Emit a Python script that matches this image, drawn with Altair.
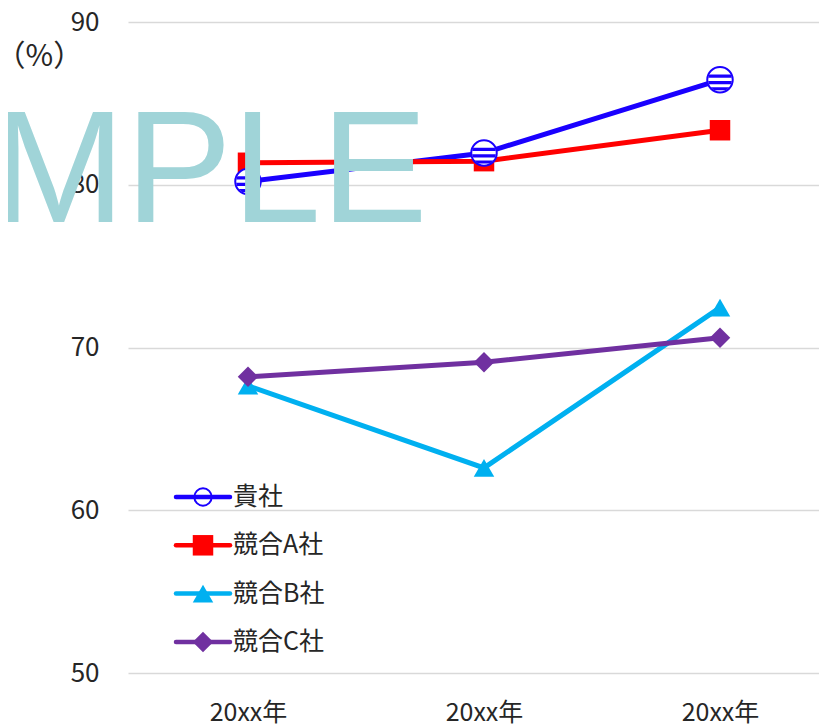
import json
import numpy as np
import pandas as pd
import altair as alt

# ---------------- data ----------------
categories = ["20xx年", "20xx年", "20xx年"]
series_names = ["貴社", "競合A社", "競合B社", "競合C社"]
kisha = [80.2, 81.95, 86.45]
comp_a = [81.35, 81.45, 83.35]
comp_b = [67.65, 62.6, 72.45]
comp_c = [68.2, 69.1, 70.6]
y_ticks = [50, 60, 70, 80, 90]

colors = ["#1A00FF", "#FF0000", "#00B0F0", "#7030A0"]
FONT = "Noto Sans CJK JP"
TXT = "#262626"

rows = []
for name, vals in zip(series_names, [kisha, comp_a, comp_b, comp_c]):
    for i, v in enumerate(vals):
        rows.append({"series": name, "idx": i, "value": v})
df = pd.DataFrame(rows)

legend_df = pd.DataFrame({"series": series_names, "row": list(range(len(series_names)))})

# ---------------- marker shapes ----------------
CIRCLE = "M-1,0A1,1 0 1,1 1,0A1,1 0 1,1 -1,0Z"


def stripes_path(bands, r=0.93, n=12):
    parts = []
    for a, b in bands:
        ys = np.linspace(a, b, n)
        left = [(-np.sqrt(max(r * r - y * y, 0)), y) for y in ys]
        right = [(np.sqrt(max(r * r - y * y, 0)), y) for y in ys[::-1]]
        pts = left + right
        s = "M" + " L".join(f"{x:.3f},{y:.3f}" for x, y in pts) + " Z"
        parts.append(s)
    return " ".join(parts)


STRIPES = stripes_path([(-0.42, -0.16), (0.10, 0.36), (0.58, 0.82)])

color = alt.Color("series:N", scale=alt.Scale(domain=series_names, range=colors), legend=None)

x_enc = alt.X(
    "idx:Q",
    scale=alt.Scale(domain=[-120 / 236, 571 / 236], nice=False, zero=False),
    axis=alt.Axis(
        values=[0, 1, 2],
        labelExpr=json.dumps(categories, ensure_ascii=False) + "[datum.value]",
        title=None, domain=False, ticks=False, grid=False,
        labelPadding=27, labelFontSize=25, labelColor=TXT, labelFont=FONT,
    ),
)
y_enc = alt.Y(
    "value:Q",
    scale=alt.Scale(domain=[50, 90], nice=False, zero=False),
    axis=alt.Axis(
        values=y_ticks, title="（%）", titleAngle=0, titleX=-133, titleY=34,
        titleAlign="left", titleBaseline="middle", titleFontSize=30,
        titleFontWeight="normal", titleColor=TXT, titleFont=FONT,
        domain=False, ticks=False, labelPadding=29, labelFontSize=26,
        labelColor=TXT, labelFont=FONT, gridColor="#D9D9D9", gridWidth=1.5,
    ),
)

base = alt.Chart(df).encode(x=x_enc, y=y_enc)

lines = base.mark_line(strokeWidth=5).encode(color=color)

others = base.transform_filter(alt.datum.series != "貴社").mark_point(filled=True, opacity=1).encode(
    color=color,
    shape=alt.Shape("series:N", scale=alt.Scale(domain=series_names[1:], range=["square", "triangle-up", "diamond"]), legend=None),
    size=alt.Size("series:N", scale=alt.Scale(domain=series_names[1:], range=[420, 420, 360]), legend=None),
)

k_circle = base.transform_filter(alt.datum.series == "貴社").mark_point(
    shape=CIRCLE, filled=True, fill="white", stroke=colors[0], strokeWidth=2, size=650, opacity=1
)
k_stripes = base.transform_filter(alt.datum.series == "貴社").mark_point(
    shape=STRIPES, filled=True, color=colors[0], size=650, opacity=1
)

main = alt.layer(lines, others, k_circle, k_stripes)

# ---------------- legend (drawn inside plot) ----------------
lbase = alt.Chart(legend_df).transform_calculate(ly="475 + datum.row * 48.3").encode(
    y=alt.Y("ly:Q", scale=None, axis=None)
)
l_circle = lbase.transform_filter(alt.datum.series == "貴社").mark_point(
    shape=CIRCLE, filled=True, fill="white", stroke=colors[0], strokeWidth=2, size=300, opacity=1
).encode(x=alt.value(75))
l_rules = lbase.mark_rule(strokeWidth=4.5, strokeCap="round").encode(
    x=alt.value(48), x2=alt.value(102), color=color
)
l_marks = lbase.transform_filter(alt.datum.series != "貴社").mark_point(filled=True, opacity=1).encode(
    x=alt.value(75),
    color=color,
    shape=alt.Shape("series:N", scale=alt.Scale(domain=series_names[1:], range=["square", "triangle-up", "diamond"]), legend=None),
    size=alt.Size("series:N", scale=alt.Scale(domain=series_names[1:], range=[200, 200, 190]), legend=None),
)
l_text = lbase.mark_text(align="left", baseline="middle", fontSize=25, font=FONT, color=TXT).encode(
    x=alt.value(105), text="series:N"
)
legend_layer = alt.layer(l_circle, l_rules, l_marks, l_text)

# ---------------- watermark ----------------
wm = alt.Chart(pd.DataFrame({"t": ["MPLE"]})).mark_text(
    align="left", baseline="alphabetic", fontSize=160, font="Liberation Sans", color="#A0D4D8"
).encode(x=alt.value(-136), y=alt.value(200), text="t:N")

chart = alt.layer(main, legend_layer, wm).resolve_scale(y="independent", x="independent").properties(
    width=691, height=651,
    autosize=alt.AutoSizeParams(type="none"),
    padding={"left": 120, "top": 14, "right": 0, "bottom": 51},
).configure(font=FONT).configure_view(stroke=None)

chart.save("out.html", embed_options={"renderer": "svg", "actions": False})
